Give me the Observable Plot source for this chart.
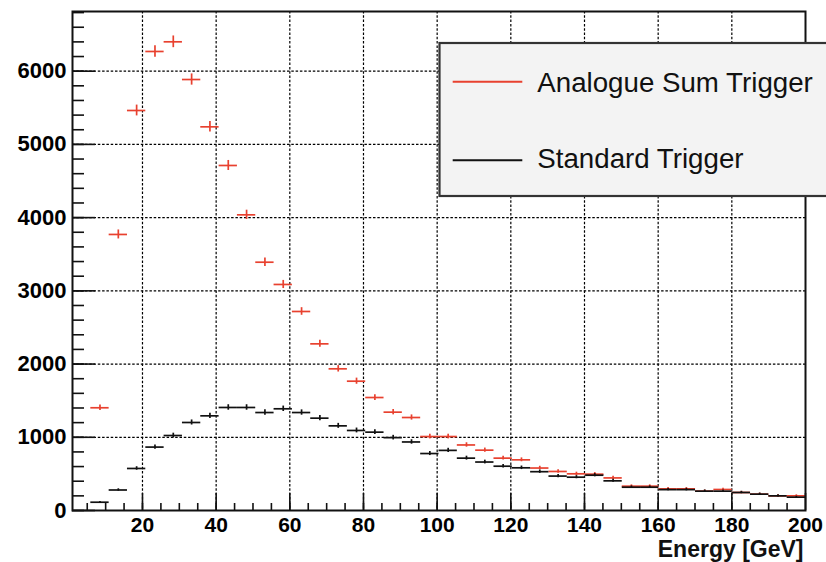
<!DOCTYPE html>
<html>
<head>
<meta charset="utf-8">
<script src="https://cdn.jsdelivr.net/npm/d3@7"></script>
<script src="https://cdn.jsdelivr.net/npm/@observablehq/plot@0.6"></script>
<style>
  html, body { margin: 0; padding: 0; background: #fff; overflow: hidden; }
  #wrap { position: relative; width: 826px; height: 562px; }
  #wrap svg { display: block; }
  #legend { position: absolute; left: 0; top: 0; pointer-events: none; }
</style>
</head>
<body>
<div id="wrap"></div>
<script>
// Bin centres (GeV) of the energy histogram
const binCenters = [8.46, 13.44, 18.41, 23.39, 28.36, 33.34, 38.31, 43.29, 48.26, 53.24,
  58.21, 63.19, 68.16, 73.14, 78.11, 83.09, 88.06, 93.04, 98.01, 102.99,
  107.96, 112.94, 117.91, 122.89, 127.86, 132.84, 137.81, 142.79, 147.76, 152.74,
  157.71, 162.69, 167.66, 172.64, 177.61, 182.59, 187.56, 192.54, 197.51];
// Entries per bin
const analogueSum = [1403, 3770, 5463, 6269, 6401, 5886, 5240, 4712, 4038, 3391,
  3087, 2718, 2276, 1935, 1766, 1543, 1343, 1270, 1010, 1010,
  895, 824, 715, 692, 580, 533, 501, 496, 445, 332,
  332, 296, 296, 264, 287, 246, 223, 200, 200];
const standard = [113, 280, 574, 866, 1024, 1202, 1293, 1407, 1407, 1338,
  1389, 1338, 1261, 1156, 1093, 1070, 995, 936, 778, 821,
  715, 662, 605, 583, 530, 470, 455, 482, 405, 318,
  318, 285, 285, 264, 264, 246, 223, 200, 182];
const seriesNames = ["Analogue Sum Trigger", "Standard Trigger"];
const seriesColors = ["#e8412f", "#111111"];
const xTicks = [20, 40, 60, 80, 100, 120, 140, 160, 180, 200];
const yTicks = [0, 1000, 2000, 3000, 4000, 5000, 6000];
const xLabel = "Energy [GeV]";

const halfBin = 2.4875;
const xMinor = d3.range(5, 200, 5);
const yMinor = d3.range(0, 6815, 200);

const redRows = binCenters.map((c, i) => ({x: c, v: analogueSum[i]}));
const blackRows = binCenters.map((c, i) => ({x: c, v: standard[i]}));

const W = 826, H = 562, mL = 72, mR = 21, mT = 11, mB = 52;
const innerW = W - mL - mR, innerH = H - mT - mB;
const font = "'Liberation Sans', Arial, Helvetica, sans-serif";
const gridStyle = {stroke: "#000", strokeOpacity: 1, strokeWidth: 1.2, strokeDasharray: "2.5,1.8"};

function errMarks(rows, color) {
  return [
    Plot.ruleY(rows, {y: "v", x1: d => d.x - halfBin, x2: d => d.x + halfBin, stroke: color, strokeWidth: 1.7}),
    Plot.ruleX(rows, {x: "x", y1: d => d.v - Math.sqrt(d.v), y2: d => d.v + Math.sqrt(d.v), stroke: color, strokeWidth: 1.7})
  ];
}

const chart = Plot.plot({
  width: W, height: H,
  marginLeft: mL, marginRight: mR, marginTop: mT, marginBottom: mB,
  style: {fontFamily: font, background: "white", color: "black", overflow: "visible"},
  x: {domain: [1, 200]},
  y: {domain: [0, 6815]},
  marks: [
    Plot.gridX({ticks: xTicks.filter(t => t < 200), ...gridStyle}),
    Plot.gridY({ticks: yTicks.filter(t => t > 0), ...gridStyle}),
    ...errMarks(redRows, seriesColors[0]),
    ...errMarks(blackRows, seriesColors[1]),
    Plot.tickX(xMinor, {x: d => d, insetTop: innerH - 7, stroke: "#111", strokeWidth: 1.6}),
    Plot.tickX(xTicks, {x: d => d, insetTop: innerH - 17, stroke: "#111", strokeWidth: 1.6}),
    Plot.tickY(yMinor, {y: d => d, insetRight: innerW - 12, stroke: "#111", strokeWidth: 1.6}),
    Plot.tickY(yTicks, {y: d => d, insetRight: innerW - 23, stroke: "#111", strokeWidth: 1.6}),
    Plot.frame({stroke: "#111", strokeWidth: 2}),
    Plot.axisX({ticks: xTicks, tickFormat: d => String(d), tickSize: 0, tickPadding: 7, fontSize: 21, fontWeight: "bold", label: null}),
    Plot.axisY({ticks: yTicks, tickFormat: d => String(d), tickSize: 0, tickPadding: 6, fontSize: 22, fontWeight: "bold", label: null}),
    Plot.text([xLabel], {text: d => d, frameAnchor: "bottom-right", textAnchor: "end", lineAnchor: "bottom", dx: -2, dy: 46, fontSize: 23, fontWeight: "bold", fill: "#111"})
  ]
});
document.getElementById("wrap").appendChild(chart);

// Legend box (ROOT TLegend style)
const leg = d3.select("#wrap").append("svg").attr("id", "legend")
  .attr("width", W).attr("height", H).style("font-family", font);
leg.append("rect").attr("x", 439.5).attr("y", 43).attr("width", 400).attr("height", 153)
  .attr("fill", "#f3f3f3").attr("stroke", "#333").attr("stroke-width", 2.2);
const entries = [{y: 81.7, base: 91.7}, {y: 160.3, base: 168.3}];
entries.forEach((e, i) => {
  leg.append("line").attr("x1", 452.7).attr("x2", 522.3).attr("y1", e.y).attr("y2", e.y)
    .attr("stroke", seriesColors[i]).attr("stroke-width", 2);
  leg.append("text").attr("x", 537.3).attr("y", e.base).attr("font-size", 27.7)
    .attr("fill", "#111").text(seriesNames[i]);
});
</script>
</body>
</html>
